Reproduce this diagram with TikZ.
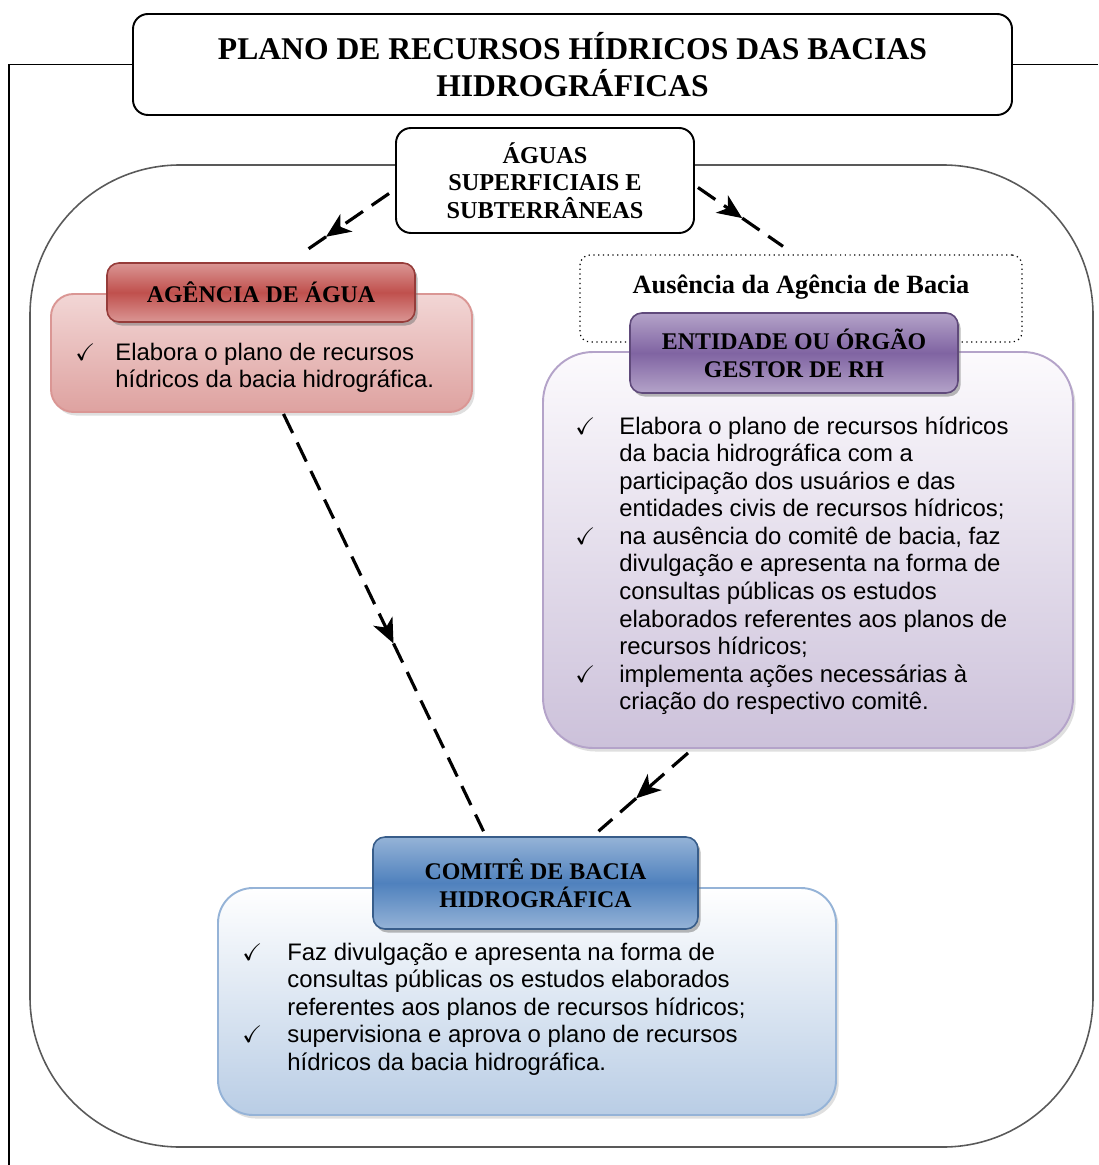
\documentclass[tikz,border=0pt]{standalone}
\usepackage{fontspec}
\usepackage{amssymb}
\setmainfont{Liberation Serif}
\newfontfamily\arialfont{Liberation Sans}
\usetikzlibrary{shadows,arrows.meta}
\newdimen\pxu
\pxu=0.02cm
\definecolor{frameGray}{RGB}{89,89,89}
\definecolor{redLight}{RGB}{218,150,148}
\definecolor{redMid}{RGB}{192,80,77}
\definecolor{redEdge}{RGB}{150,60,58}
\definecolor{redBodyTop}{RGB}{242,214,213}
\definecolor{redBodyBot}{RGB}{222,162,160}
\definecolor{purLight}{RGB}{180,163,201}
\definecolor{purMid}{RGB}{128,100,162}
\definecolor{purEdge}{RGB}{96,74,123}
\definecolor{purBodyTop}{RGB}{252,250,253}
\definecolor{purBodyBot}{RGB}{204,193,218}
\definecolor{bluLight}{RGB}{149,179,215}
\definecolor{bluMid}{RGB}{79,129,189}
\definecolor{bluEdge}{RGB}{56,93,138}
\definecolor{bluBodyTop}{RGB}{255,255,255}
\definecolor{bluBodyBot}{RGB}{185,205,229}
\newcommand{\chk}{$\checkmark$}
\tikzset{
  frame line/.style={draw=black,line width=0.9pt},
  big frame/.style={draw=frameGray,line width=0.9pt,rounded corners=3cm},
  title box/.style={draw=black,line width=1.1pt,fill=white,rounded corners=0.3cm,
    align=center,font=\bfseries\fontsize{18}{21}\selectfont},
  water box/.style={draw=black,line width=1.1pt,fill=white,rounded corners=0.3cm,
    align=center,font=\bfseries\fontsize{13.8}{15.6}\selectfont},
  dotted box/.style={draw=black,dotted,line width=0.7pt,fill=white,rounded corners=0.2cm},
  head/.style={rounded corners=0.24cm,line width=0.9pt,align=center,
    font=\bfseries\fontsize{13.6}{15.9}\selectfont,
    drop shadow={shadow xshift=1.5pt,shadow yshift=-2pt,fill=black!55}},
  body/.style={line width=1.1pt,
    drop shadow={shadow xshift=1.5pt,shadow yshift=-2pt,fill=black!25}},
  body text/.style={inner sep=0pt,anchor=base west,font=\arialfont\fontsize{13.6}{15.7}\selectfont},
  flow/.style={line width=1.8pt,dash pattern=on 12pt off 6pt},
  flow tip/.style={flow,-{Stealth[length=14pt,width=12pt,inset=4pt]}}
}

\begin{document}
\begin{tikzpicture}[x=0.02cm,y=-0.02cm]
  \useasboundingbox (0,0) rectangle (1098,1165);

  \draw[big frame] (30,165) rectangle (1093,1147);

  \node[title box,minimum width=879\pxu,minimum height=101\pxu] (title) at (572.5,64.5)
    {PLANO DE RECURSOS HÍDRICOS DAS BACIAS\\HIDROGRÁFICAS};
  \draw[frame line] (title.west) -| (9,1165);
  \draw[frame line] (title.east) -- (1098,64.5);

  \node[water box,minimum width=298\pxu,minimum height=105\pxu] (aguas) at (545,180.5)
    {ÁGUAS\\SUPERFICIAIS E\\SUBTERRÂNEAS};

  \node[body,draw=redLight,rounded corners=0.45cm,top color=redBodyTop,bottom color=redBodyBot,
    minimum width=421\pxu,minimum height=118\pxu] (agb) at (261.5,353) {};
  \node[head,draw=redEdge,top color=redLight,bottom color=redLight,middle color=redMid,
    minimum width=308\pxu,minimum height=59\pxu] (agh) at (261,292.5) {AGÊNCIA DE ÁGUA};
  \node[body text] (agt) at (75,360)
    {\begin{tabular}[t]{@{}p{40\pxu}@{}l@{}}
      \chk & Elabora o plano de recursos\\
           & hídricos da bacia hidrográfica.
    \end{tabular}};

  \node[dotted box,minimum width=442\pxu,minimum height=87\pxu] (aus) at (801,298.5) {};
  \node[font=\bfseries\fontsize{15}{17}\selectfont] (ausl) at (801,287) {Ausência da Agência de Bacia};

  \node[body,draw=purLight,rounded corners=1cm,top color=purBodyTop,bottom color=purBodyBot,
    minimum width=530\pxu,minimum height=396\pxu] (entb) at (808,550) {};
  \node[head,draw=purEdge,top color=purLight,bottom color=purLight,middle color=purMid,
    minimum width=328\pxu,minimum height=80\pxu] (enth) at (794,353)
    {ENTIDADE OU ÓRGÃO\\GESTOR DE RH};
  \node[body text] (entt) at (575,434)
    {\begin{tabular}[t]{@{}p{44\pxu}@{}l@{}}
      \chk & Elabora o plano de recursos hídricos\\
           & da bacia hidrográfica com a\\
           & participação dos usuários e das\\
           & entidades civis de recursos hídricos;\\
      \chk & na ausência do comitê de bacia, faz\\
           & divulgação e apresenta na forma de\\
           & consultas públicas os estudos\\
           & elaborados referentes aos planos de\\
           & recursos hídricos;\\
      \chk & implementa ações necessárias à\\
           & criação do respectivo comitê.
    \end{tabular}};

  \node[body,draw=bluLight,rounded corners=0.7cm,top color=bluBodyTop,bottom color=bluBodyBot,
    minimum width=618\pxu,minimum height=227\pxu] (comb) at (527,1001.5) {};
  \node[head,draw=bluEdge,top color=bluLight,bottom color=bluLight,middle color=bluMid,
    minimum width=325\pxu,minimum height=92\pxu] (comh) at (535.5,883)
    {COMITÊ DE BACIA\\HIDROGRÁFICA};
  \node[body text] (comt) at (242,960)
    {\begin{tabular}[t]{@{}p{45\pxu}@{}l@{}}
      \chk & Faz divulgação e apresenta na forma de\\
           & consultas públicas os estudos elaborados\\
           & referentes aos planos de recursos hídricos;\\
      \chk & supervisiona e aprova o plano de recursos\\
           & hídricos da bacia hidrográfica.
    \end{tabular}};

  \path ([shift={(-6,13)}]aguas.west) coordinate (a1) -- ([shift={(44,-11)}]agh.north) coordinate (b1)
    coordinate[pos=0.75] (m1);
  \path ([shift={(3,7)}]aguas.east) coordinate (a2) -- ([shift={(-18,-8)}]aus.north) coordinate (b2)
    coordinate[pos=0.52] (m2);
  \path ([shift={(22,1)}]agb.south) coordinate (a3) -- ([shift={(-52,-5)}]comh.north) coordinate (b3)
    coordinate[pos=0.55] (m3);
  \path ([shift={(-120,4)}]entb.south) coordinate (a4) -- ([shift={(63,-5)}]comh.north) coordinate (b4)
    coordinate[pos=0.58] (m4);
  \draw[flow tip] (a1) -- (m1);
  \draw[flow] (m1) -- (b1);
  \draw[flow tip] (a2) -- (m2);
  \draw[flow] (m2) -- (b2);
  \draw[flow tip] (a3) -- (m3);
  \draw[flow] (m3) -- (b3);
  \draw[flow tip] (a4) -- (m4);
  \draw[flow] (m4) -- (b4);
\end{tikzpicture}
\end{document}
